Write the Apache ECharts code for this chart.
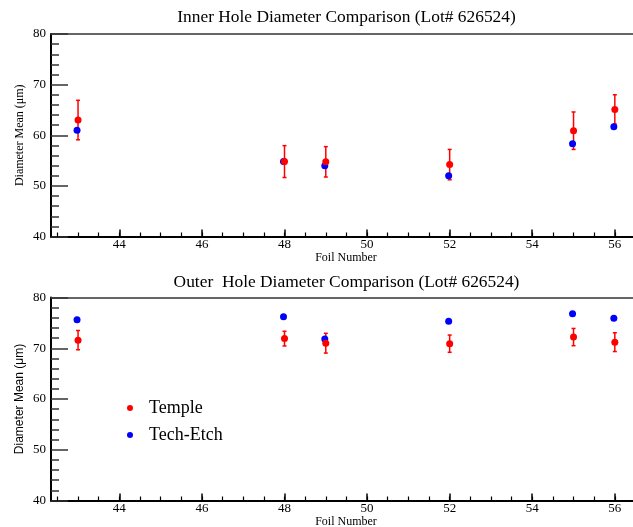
<!DOCTYPE html>
<html>
<head>
<meta charset="utf-8">
<script src="https://cdn.jsdelivr.net/npm/echarts@6/dist/echarts.min.js"></script>
<style>
html,body{margin:0;padding:0;background:#fff;}
#c{width:633px;height:527px;}
</style>
</head>
<body>
<div id="c"></div>
<script>
// ---- data ----
var foils = [43, 48, 49, 52, 55, 56];
var innerTemple = [63.0, 54.8, 54.75, 54.2, 60.9, 65.1];
var innerTempleErr = [3.9, 3.15, 3.0, 3.0, 3.7, 2.9];
var innerTechEtch = [61.0, 54.8, 54.0, 52.0, 58.3, 61.7];
var outerTemple = [71.6, 71.9, 71.0, 70.9, 72.2, 71.2];
var outerTempleErr = [1.9, 1.45, 1.95, 1.7, 1.7, 1.85];
var outerTechEtch = [75.6, 76.2, 71.8, 75.3, 76.8, 75.9];
var xMajorTicks = [44, 46, 48, 50, 52, 54, 56];
var xMinorTicks = [42.5, 43, 43.5, 44, 44.5, 45, 45.5, 46, 46.5, 47, 47.5, 48, 48.5, 49, 49.5, 50, 50.5, 51, 51.5, 52, 52.5, 53, 53.5, 54, 54.5, 55, 55.5, 56];
var titles = ['Inner Hole Diameter Comparison (Lot# 626524)', 'Outer  Hole Diameter Comparison (Lot# 626524)'];
var xName = 'Foil Number';
var yName = 'Diameter Mean (\u03bcm)';

var xMin = 42.345, xMax = 56.44;
var serif = '"Liberation Serif", "DejaVu Serif", serif';
var sans = '"Liberation Sans", Arial, sans-serif';

function pairs(xs, ys) { return xs.map(function (x, i) { return [x, ys[i]]; }); }
function errData(xs, ys, es) { return xs.map(function (x, i) { return [x, ys[i] - es[i], ys[i] + es[i]]; }); }

var grids = [
  { left: 51, top: 34, right: 0, height: 202.5, outerBoundsMode: 'none', containLabel: false },
  { left: 51, top: 297.5, right: 0, height: 203, outerBoundsMode: 'none', containLabel: false }
];

var xAxes = [], yAxes = [];
[0, 1].forEach(function (g) {
  xAxes.push({
    type: 'value', gridIndex: g, min: xMin, max: xMax, position: 'bottom',
    name: xName, nameLocation: 'middle', nameGap: 15, nameMoveOverlap: false,
    nameTextStyle: { fontFamily: serif, fontSize: 12, color: '#000', padding: [0, 0, 0, 8] },
    axisLine: { show: true, lineStyle: { color: '#000', width: 2 } },
    axisTick: { show: true, inside: true, length: 7, customValues: xMajorTicks, lineStyle: { color: '#000', width: 1.5 } },
    axisLabel: { show: true, customValues: xMajorTicks, margin: 2, fontFamily: serif, fontSize: 13, color: '#000' },
    splitLine: { show: false }
  });
  xAxes.push({
    type: 'value', gridIndex: g, min: xMin, max: xMax, position: 'bottom',
    axisLine: { show: false },
    axisTick: { show: true, inside: true, length: 4, customValues: xMinorTicks, lineStyle: { color: '#000', width: 1.2 } },
    axisLabel: { show: false },
    splitLine: { show: false }
  });
  xAxes.push({
    type: 'value', gridIndex: g, min: xMin, max: xMax, position: 'top',
    axisLine: { show: true, lineStyle: { color: '#333', width: 1.5 } },
    axisTick: { show: false }, axisLabel: { show: false }, splitLine: { show: false }
  });
  yAxes.push({
    type: 'value', gridIndex: g, min: 40, max: 80, interval: 10,
    name: yName, nameLocation: 'middle', nameGap: 25, nameMoveOverlap: false,
    nameTextStyle: { fontFamily: g === 0 ? serif : sans, fontSize: 12, color: '#000' },
    axisLine: { show: true, lineStyle: { color: '#000', width: 2 } },
    axisTick: { show: true, inside: true, length: 17, lineStyle: { color: '#333', width: 1.5 } },
    minorTick: { show: true, splitNumber: 5, length: 8, lineStyle: { color: '#333', width: 1.5 } },
    axisLabel: { margin: 5, fontFamily: serif, fontSize: 13, color: '#000' },
    splitLine: { show: false }
  });
});

function errRender(params, api) {
  var x = api.value(0);
  var lo = api.coord([x, api.value(1)]);
  var hi = api.coord([x, api.value(2)]);
  var cap = 2;
  var st = { stroke: '#ff0000', lineWidth: 1.5 };
  return {
    type: 'group',
    children: [
      { type: 'line', shape: { x1: hi[0], y1: hi[1], x2: lo[0], y2: lo[1] }, style: st },
      { type: 'line', shape: { x1: hi[0] - cap, y1: hi[1], x2: hi[0] + cap, y2: hi[1] }, style: st },
      { type: 'line', shape: { x1: lo[0] - cap, y1: lo[1], x2: lo[0] + cap, y2: lo[1] }, style: st }
    ]
  };
}

var series = [];
var sets = [
  { t: innerTemple, e: innerTempleErr, b: innerTechEtch },
  { t: outerTemple, e: outerTempleErr, b: outerTechEtch }
];
sets.forEach(function (s, g) {
  series.push({
    type: 'custom', xAxisIndex: g * 3, yAxisIndex: g, renderItem: errRender,
    data: errData(foils, s.t, s.e), silent: true, z: 1
  });
  series.push({
    name: 'Tech-Etch', type: 'scatter', xAxisIndex: g * 3, yAxisIndex: g,
    data: pairs(foils, s.b), symbol: 'circle', symbolSize: 7, symbolOffset: [-1, 0],
    itemStyle: { color: '#0000ff', opacity: 1 }, z: 2
  });
  series.push({
    name: 'Temple', type: 'scatter', xAxisIndex: g * 3, yAxisIndex: g,
    data: pairs(foils, s.t), symbol: 'circle', symbolSize: 7,
    itemStyle: { color: '#ff0000', opacity: 1 }, z: 3
  });
});

var chart = echarts.init(document.getElementById('c'), null, { renderer: 'canvas' });
chart.setOption({
  animation: false,
  backgroundColor: '#fff',
  grid: grids,
  xAxis: xAxes,
  yAxis: yAxes,
  legend: {
    data: ['Temple', 'Tech-Etch'], orient: 'vertical', left: 127, top: 399,
    icon: 'circle', itemWidth: 6, itemHeight: 6, itemGap: 9,
    padding: 0, selectedMode: false,
    textStyle: { fontFamily: serif, fontSize: 18, color: '#000', padding: [0, 0, 0, 11] }
  },
  graphic: [
    { type: 'text', x: 346.5, y: 17, style: { text: titles[0], textAlign: 'center', textVerticalAlign: 'middle', font: '17.4px ' + serif, fill: '#000' } },
    { type: 'text', x: 346.5, y: 282, style: { text: titles[1], textAlign: 'center', textVerticalAlign: 'middle', font: '17.4px ' + serif, fill: '#000' } }
  ],
  series: series
});
</script>
</body>
</html>
